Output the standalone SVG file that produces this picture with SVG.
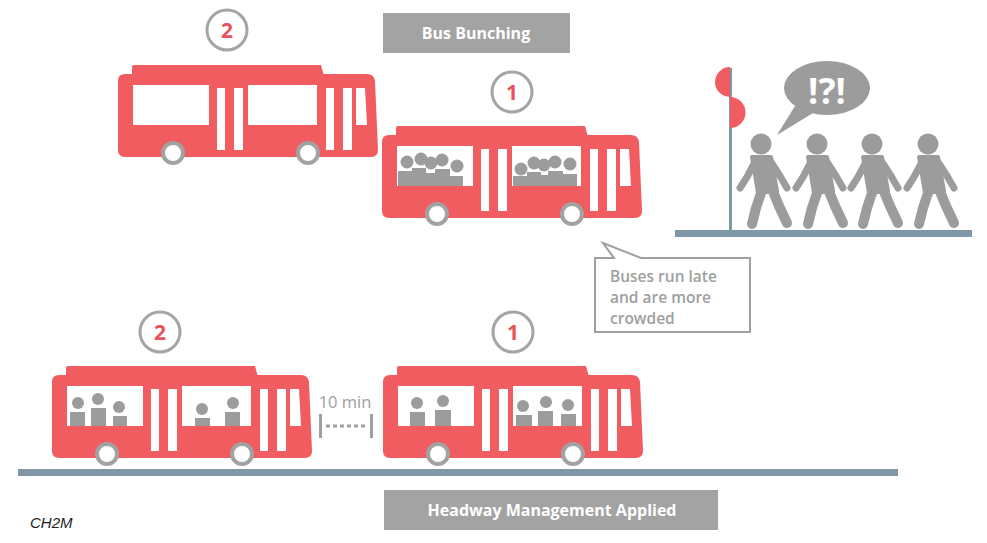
<svg xmlns="http://www.w3.org/2000/svg" width="987" height="543" viewBox="0 0 987 543">
  <style>
    .bus { fill: #F05C5F; }
    .glass { fill: #FFFFFF; }
    .wheel { fill: #FFFFFF; stroke: #A2A2A2; stroke-width: 4; }
    .pax { fill: #9C9C9C; }
    .badge { fill: #FFFFFF; stroke: #A5A5A5; stroke-width: 3; }
    .badge-num { font-family: "Open Sans", "DejaVu Sans", sans-serif; font-weight: 700; font-size: 21px; fill: #E8525A; text-anchor: middle; }
    .banner { fill: #A3A3A3; }
    .banner-text { font-family: "Open Sans", "DejaVu Sans", sans-serif; font-weight: 700; font-size: 16px; fill: #FFFFFF; text-anchor: middle; }
    .grey-text { font-family: "Open Sans", "DejaVu Sans", sans-serif; font-weight: 600; font-size: 15.5px; fill: #9E9E9E; }
    .road { fill: #7F97A6; }
    .walker { fill: #9C9C9C; }
    .limb { fill: none; stroke: #9C9C9C; stroke-linecap: round; stroke-linejoin: round; }
  </style>
  <defs>
    <!-- generic bus body, origin at top-left of the main body -->
    <g id="bus-shape">
      <path class="bus" d="M14,2 V-7 Q14,-9 16,-9 H203 L206,2 Z"/>
      <path class="bus" d="M7,0 H249 Q256,0 257,7 L260,76 Q260,83 253,83 H7 Q0,83 0,76 V7 Q0,0 7,0 Z"/>
      <rect class="glass" x="15" y="11" width="76" height="40"/>
      <rect class="glass" x="130" y="11" width="69" height="40"/>
      <rect class="glass" x="99" y="14" width="8" height="62"/>
      <rect class="glass" x="116" y="14" width="9" height="62"/>
      <rect class="glass" x="208" y="14" width="8" height="62"/>
      <rect class="glass" x="225" y="14" width="9" height="62"/>
      <polygon class="glass" points="238,14 247,14 249,51 238,51"/>
      <circle class="wheel" cx="55" cy="79" r="10"/>
      <circle class="wheel" cx="190" cy="79" r="10"/>
    </g>
    <!-- walking pedestrian, origin at head centre -->
    <g id="walker">
      <circle class="walker" cx="0" cy="0" r="10.5"/>
      <polygon class="walker" points="-9,13 10,13 16,47 -3,49" stroke="#9C9C9C" stroke-width="4" stroke-linejoin="round"/>
      <path class="limb" stroke-width="7" d="M-6,18 L-14,33 L-21,44"/>
      <path class="limb" stroke-width="7" d="M10,18 L19,32 L26,44"/>
      <path class="limb" stroke-width="10" d="M1,46 L-5,64 L-9,80"/>
      <path class="limb" stroke-width="10" d="M11,45 L18,62 L26,79"/>
    </g>
  </defs>

  <!-- headers -->
  <g id="title-top">
    <rect class="banner" x="383" y="13" width="187" height="40"/>
    <text class="banner-text" x="476" y="39" font-size="16.5">Bus Bunching</text>
  </g>
  <g id="title-bottom">
    <rect class="banner" x="384" y="490" width="334" height="40"/>
    <text class="banner-text" x="552" y="516" font-size="18">Headway Management Applied</text>
  </g>
  <text id="credit" x="30" y="528" font-family="'Liberation Sans Narrow', 'Liberation Sans', sans-serif" font-style="italic" font-size="15" fill="#222222">CH2M</text>

  <!-- bunched buses -->
  <g id="bus-top-2">
    <circle class="badge" cx="227" cy="30" r="20"/>
    <text class="badge-num" x="227" y="38">2</text>
    <use href="#bus-shape" transform="translate(118,74)"/>
  </g>
  <g id="bus-top-1">
    <circle class="badge" cx="512" cy="92" r="20"/>
    <text class="badge-num" x="512" y="100">1</text>
    <g transform="translate(382,135)">
      <use href="#bus-shape"/>
      <g class="pax">
        <circle cx="25" cy="27" r="6.5"/><circle cx="39" cy="24" r="6.5"/><circle cx="49" cy="28" r="6.5"/><circle cx="60" cy="25" r="6.5"/><circle cx="75" cy="31" r="6.5"/>
        <rect x="16" y="36" width="14" height="15"/><rect x="30" y="33" width="14" height="18"/><rect x="42" y="38" width="12" height="13"/><rect x="53" y="34" width="15" height="17"/><rect x="67" y="41" width="14" height="10"/>
        <circle cx="139" cy="34" r="6.5"/><circle cx="152" cy="28" r="6.5"/><circle cx="162" cy="30" r="6.5"/><circle cx="173" cy="27" r="6.5"/><circle cx="188" cy="29" r="6.5"/>
        <rect x="131" y="41" width="15" height="10"/><rect x="145" y="37" width="14" height="14"/><rect x="156" y="40" width="12" height="11"/><rect x="166" y="36" width="15" height="15"/><rect x="180" y="39" width="15" height="12"/>
      </g>
    </g>
  </g>

  <!-- bus stop with waiting passengers -->
  <g id="bus-stop">
    <rect class="road" x="675" y="230" width="297" height="7"/>
    <rect class="road" x="729" y="68" width="3" height="162"/>
    <path d="M730,67 A15,15 0 0 0 730,97 Z" fill="#F05C5F"/>
    <path d="M730,97 A15.5,15.5 0 0 1 730,128 Z" fill="#F05C5F"/>
  </g>
  <g id="passengers">
    <use href="#walker" transform="translate(761,144)"/>
    <use href="#walker" transform="translate(817,144)"/>
    <use href="#walker" transform="translate(872,144)"/>
    <use href="#walker" transform="translate(928,144)"/>
  </g>
  <g id="exclaim">
    <path d="M795,106 L777,135 L813,113 Z" fill="#9C9C9C"/>
    <ellipse cx="827" cy="88" rx="43" ry="27" fill="#9C9C9C"/>
    <text x="827" y="104" font-family="'Open Sans', 'DejaVu Sans', sans-serif" font-weight="700" font-size="36" fill="#FFFFFF" text-anchor="middle">!?!</text>
  </g>

  <!-- callout -->
  <g id="callout">
    <path d="M595,258 H614 L603,243 L641,258 H750 V332 H595 Z" fill="#FFFFFF" stroke="#A0A0A0" stroke-width="2"/>
    <text class="grey-text" x="610" y="282">Buses run late</text>
    <text class="grey-text" x="610" y="303">and are more</text>
    <text class="grey-text" x="610" y="324">crowded</text>
  </g>

  <!-- evenly spaced buses -->
  <rect id="road" class="road" x="18" y="469" width="880" height="7"/>
  <g id="bus-bottom-2">
    <circle class="badge" cx="160" cy="332" r="20"/>
    <text class="badge-num" x="160" y="340">2</text>
    <g transform="translate(52,375)">
      <use href="#bus-shape"/>
      <g class="pax">
        <circle cx="26" cy="28" r="6"/><circle cx="46" cy="24" r="6"/><circle cx="67" cy="32" r="6"/>
        <rect x="18" y="37" width="15" height="14"/><rect x="39" y="33" width="15" height="18"/><rect x="61" y="41" width="14" height="10"/>
        <circle cx="150" cy="34" r="6"/><circle cx="181" cy="28" r="6"/>
        <rect x="143" y="43" width="15" height="8"/><rect x="173" y="37" width="15" height="14"/>
      </g>
    </g>
  </g>
  <g id="bus-bottom-1">
    <circle class="badge" cx="513" cy="332" r="20"/>
    <text class="badge-num" x="513" y="340">1</text>
    <g transform="translate(383,375)">
      <use href="#bus-shape"/>
      <g class="pax">
        <circle cx="34" cy="28" r="6"/><circle cx="60" cy="26" r="6"/>
        <rect x="27" y="37" width="15" height="14"/><rect x="52" y="35" width="16" height="16"/>
        <circle cx="140" cy="31" r="6"/><circle cx="163" cy="27" r="6"/><circle cx="185" cy="30" r="6"/>
        <rect x="133" y="40" width="16" height="11"/><rect x="155" y="36" width="15" height="15"/><rect x="178" y="39" width="15" height="12"/>
      </g>
    </g>
  </g>

  <!-- headway gap marker -->
  <g id="connectors">
    <text x="345" y="408" font-family="'Open Sans', 'DejaVu Sans', sans-serif" font-size="16.5" fill="#9E9E9E" text-anchor="middle">10 min</text>
    <rect x="319" y="414" width="3" height="24" fill="#A0A0A0"/>
    <rect x="370" y="414" width="3" height="24" fill="#A0A0A0"/>
    <line x1="326" y1="426" x2="368" y2="426" stroke="#A0A0A0" stroke-width="3" stroke-dasharray="4,3"/>
  </g>
</svg>
